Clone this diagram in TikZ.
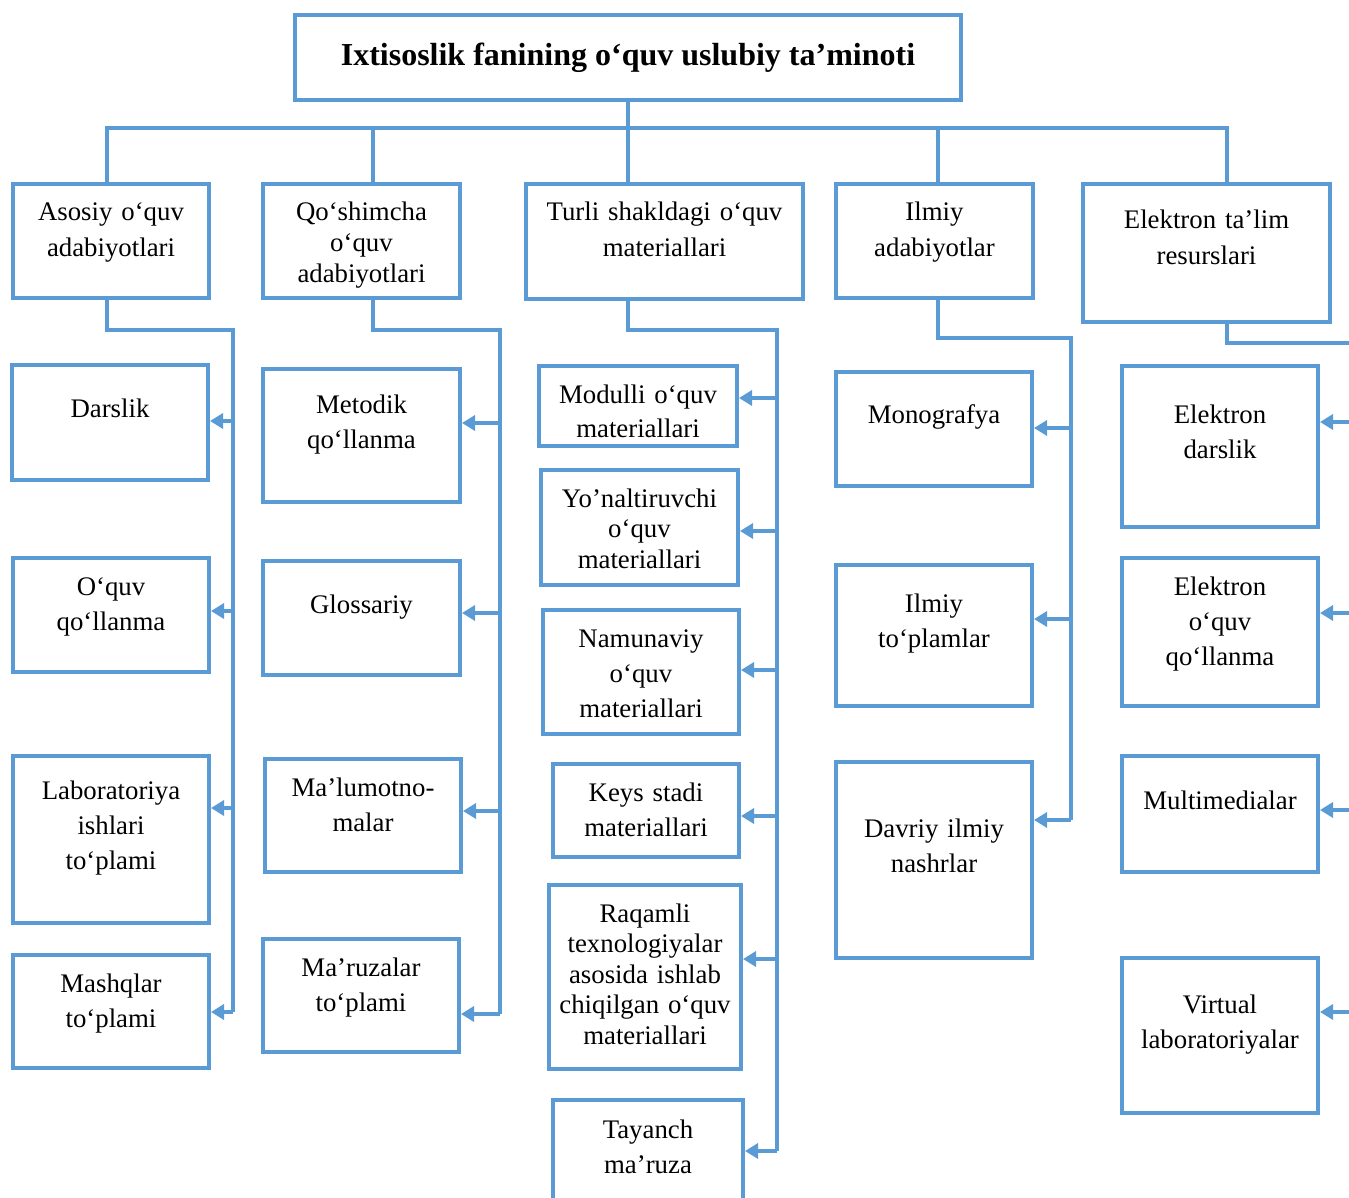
\documentclass[tikz,border=0pt]{standalone}
\usepackage{fontspec}
\setmainfont{Liberation Serif}
\usetikzlibrary{arrows.meta}
\definecolor{lineblue}{HTML}{5B9BD5}

\begin{document}
\begin{tikzpicture}[x=0.5pt,y=-0.5pt,>={Triangle[length=6.5pt,width=7.5pt]},
		line width=2pt]
		\tikzstyle{box}=[draw=lineblue,fill=white,inner sep=0pt,anchor=north,
		align=center,font=\fontsize{13.4}{17.5}\selectfont]
		\tikzstyle{tight}=[font=\fontsize{13.4}{15.3}\selectfont]
		\tikzstyle{conn}=[color=lineblue]
		\useasboundingbox (0,0) rectangle (1349,1198);
		
		\node[box,anchor=center,minimum width=333pt,minimum height=42.5pt,
		font=\fontsize{16}{19}\selectfont\bfseries] (title) at (628,57.5) {Ixtisoslik fanining o‘quv uslubiy ta’minoti};
		
		\node[box,text width=98pt,text height=18.5pt,text depth=38.5pt]         (asosiy)    at (111,182)    {Asosiy o‘quv\\adabiyotlari};
		\node[box,tight,text width=98.5pt,text height=18.5pt,text depth=38.5pt] (qoshimcha) at (361.5,182)  {Qo‘shimcha\\o‘quv\\adabiyotlari};
		\node[box,text width=138.5pt,text height=18.5pt,text depth=39pt]        (turli)     at (664.5,182)  {Turli shakldagi o‘quv\\materiallari};
		\node[box,text width=98.5pt,text height=18.5pt,text depth=38.5pt]       (ilmiy)     at (934.5,182)  {Ilmiy\\adabiyotlar};
		\node[box,text width=123.5pt,text height=22.5pt,text depth=46.5pt]      (elektron)  at (1206.5,182) {Elektron ta’lim\\resurslari};
		
		\node[box,text width=98pt,text height=26pt,text depth=31.5pt]   (darslik) at (110,363) {Darslik};
		\node[box,text width=98pt,text height=18.5pt,text depth=38.5pt] (oquvql)  at (111,556) {O‘quv\\qo‘llanma};
		\node[box,text width=98pt,text height=21.5pt,text depth=62pt]   (labor)   at (111,754) {Laboratoriya\\ishlari\\to‘plami};
		\node[box,text width=98pt,text height=18.5pt,text depth=38pt]   (mashq)   at (111,953) {Mashqlar\\to‘plami};
		
		\node[box,text width=98.5pt,text height=22pt,text depth=44.5pt] (metodik) at (361.5,367) {Metodik\\qo‘llanma};
		\node[box,text width=98.5pt,text height=26pt,text depth=31pt]   (gloss)   at (361.5,559) {Glossariy};
		\node[box,text width=98pt,text height=18.5pt,text depth=38pt]   (malumot) at (363,757)   {Ma’lumotno-\\malar};
		\node[box,text width=98pt,text height=18.5pt,text depth=38pt]   (maruza)  at (361,937)   {Ma’ruzalar\\to‘plami};
		
		\node[box,font=\fontsize{13.4}{17}\selectfont,text width=99pt,text height=18.5pt,text depth=21.5pt] (modulli) at (638,364) {Modulli o‘quv\\materiallari};
		\node[box,tight,text width=98.5pt,text height=18.5pt,text depth=39pt] (yonalt)  at (639.5,468) {Yo’naltiruvchi\\o‘quv\\materiallari};
		\node[box,text width=98pt,text height=18.5pt,text depth=43.5pt]       (namuna)  at (641,608)   {Namunaviy\\o‘quv\\materiallari};
		\node[box,text width=93pt,text height=18.5pt,text depth=28pt]         (keys)    at (646,762)   {Keys stadi\\materiallari};
		\node[box,tight,text width=96pt,text height=18.5pt,text depth=73.5pt] (raqamli) at (645,883)   {Raqamli\\texnologiyalar\\asosida ishlab\\chiqilgan o‘quv\\materiallari};
		\node[box,text width=95pt,text height=19pt,text depth=70pt]           (tayanch) at (648,1098)  {Tayanch\\ma’ruza};
		
		\node[box,text width=98pt,text height=25.5pt,text depth=31.5pt] (monogr) at (934,370) {Monografya};
		\node[box,text width=98pt,text height=23.5pt,text depth=47pt]   (ilmtop) at (934,563) {Ilmiy\\to‘plamlar};
		\node[box,text width=98pt,text height=37.5pt,text depth=60.5pt] (davriy) at (934,760) {Davriy ilmiy\\nashrlar};
		
		\node[box,text width=98pt,text height=28.5pt,text depth=52pt]   (edars)   at (1220,364) {Elektron\\darslik};
		\node[box,text width=98pt,text height=18.5pt,text depth=55.5pt] (eoquv)   at (1220,556) {Elektron\\o‘quv\\qo‘llanma};
		\node[box,text width=98pt,text height=26.5pt,text depth=31.5pt] (multim)  at (1220,754) {Multimedialar};
		\node[box,text width=98pt,text height=27.5pt,text depth=50pt]   (virtual) at (1220,956) {Virtual\\laboratoriyalar};
		
		% top level
		\coordinate (bus) at (628,128);
		\draw[conn] (title.south) -- (turli.north -| bus);
		\draw[conn] ([xshift=-2pt]asosiy.north) |- (bus) -| ([xshift=10.25pt]elektron.north);
		\draw[conn] ([xshift=5.75pt]qoshimcha.north) -- ([xshift=5.75pt]qoshimcha.north |- bus);
		\draw[conn] ([xshift=1.75pt]ilmiy.north) -- ([xshift=1.75pt]ilmiy.north |- bus);
		
		% Asosiy o'quv adabiyotlari
		\coordinate (a0) at (233,330);
		\coordinate (a1) at (233,421);
		\coordinate (a2) at (233,611);
		\coordinate (a3) at (233,808);
		\coordinate (a4) at (233,1012);
		\draw[conn] ([xshift=-2pt]asosiy.south) |- (a0) -- (a4);
		\draw[conn,->] (a1) -- (a1 -| darslik.east);
		\draw[conn,->] (a2) -- (a2 -| oquvql.east);
		\draw[conn,->] (a3) -- (a3 -| labor.east);
		\draw[conn,->] (a4) -- (a4 -| mashq.east);
		
		% Qo'shimcha o'quv adabiyotlari
		\coordinate (q0) at (499.5,330);
		\coordinate (q1) at (499.5,423);
		\coordinate (q2) at (499.5,613);
		\coordinate (q3) at (499.5,811);
		\coordinate (q4) at (499.5,1014);
		\draw[conn] ([xshift=5.75pt]qoshimcha.south) |- (q0) -- (q4);
		\draw[conn,->] (q1) -- (q1 -| metodik.east);
		\draw[conn,->] (q2) -- (q2 -| gloss.east);
		\draw[conn,->] (q3) -- (q3 -| malumot.east);
		\draw[conn,->] (q4) -- (q4 -| maruza.east);
		
		% Turli shakldagi o'quv materiallari
		\coordinate (t0) at (777,330);
		\coordinate (t1) at (777,398);
		\coordinate (t2) at (777,531);
		\coordinate (t3) at (777,670);
		\coordinate (t4) at (777,816);
		\coordinate (t5) at (777,959);
		\coordinate (t6) at (777,1151);
		\draw[conn] (turli.south -| bus) |- (t0) -- (t6);
		\draw[conn,->] (t1) -- (t1 -| modulli.east);
		\draw[conn,->] (t2) -- (t2 -| yonalt.east);
		\draw[conn,->] (t3) -- (t3 -| namuna.east);
		\draw[conn,->] (t4) -- (t4 -| keys.east);
		\draw[conn,->] (t5) -- (t5 -| raqamli.east);
		\draw[conn,->] (t6) -- (t6 -| tayanch.east);
		
		% Ilmiy adabiyotlar
		\coordinate (i0) at (1071,338);
		\coordinate (i1) at (1071,428);
		\coordinate (i2) at (1071,619);
		\coordinate (i3) at (1071,820);
		\draw[conn] ([xshift=1.75pt]ilmiy.south) |- (i0) -- (i3);
		\draw[conn,->] (i1) -- (i1 -| monogr.east);
		\draw[conn,->] (i2) -- (i2 -| ilmtop.east);
		\draw[conn,->] (i3) -- (i3 -| davriy.east);
		
		% Elektron ta'lim resurslari
		\coordinate (e0) at (1365,343);
		\coordinate (e1) at (1365,422);
		\coordinate (e2) at (1365,613);
		\coordinate (e3) at (1365,810);
		\coordinate (e4) at (1365,1012);
		\draw[conn] ([xshift=10.25pt]elektron.south) |- (e0) -- (e4);
		\draw[conn,->] (e1) -- (e1 -| edars.east);
		\draw[conn,->] (e2) -- (e2 -| eoquv.east);
		\draw[conn,->] (e3) -- (e3 -| multim.east);
		\draw[conn,->] (e4) -- (e4 -| virtual.east);
\end{tikzpicture}
\end{document}
